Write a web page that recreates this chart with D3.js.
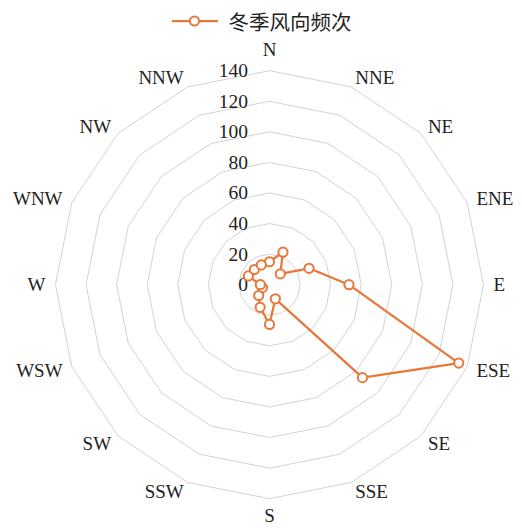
<!DOCTYPE html>
<html>
<head>
<meta charset="utf-8">
<script src="https://cdn.jsdelivr.net/npm/d3@7"></script>
<style>
  html, body { margin: 0; padding: 0; background: #fff; }
  svg { display: block; }
</style>
</head>
<body>
<svg id="chart" width="522" height="528"></svg>
<script>
// Winter wind direction frequency (16 compass points, clockwise from N)
const directions = ["N", "NNE", "NE", "ENE", "E", "ESE", "SE", "SSE",
                    "S", "SSW", "SW", "WSW", "W", "WNW", "NW", "NNW"];
const frequency = [15, 23, 10, 28, 52, 134, 86, 10,
                   26, 16, 10, 5, 6, 15, 14, 14];
const ringTicks = [0, 20, 40, 60, 80, 100, 120, 140];
const seriesName = "冬季风向频次";

const color = "#E8783A";
const gridColor = "#D3D3D3";
const latin = "'Liberation Serif', 'Times New Roman', serif";
const cjk = "'Noto Sans CJK SC', 'Noto Sans', sans-serif";

const svg = d3.select("#chart");
const cx = 269.5, cy = 284.7, R = 214;

const r = d3.scaleLinear().domain([0, 140]).range([0, R]);
const angle = d3.scalePoint()
  .domain(directions)
  .range([0, 2 * Math.PI * (directions.length - 1) / directions.length]);

const g = svg.append("g").attr("transform", `translate(${cx},${cy})`);

// Concentric polygon grid
const ring = d3.lineRadial()
  .angle(d => angle(d))
  .curve(d3.curveLinearClosed);

g.append("g").selectAll("path")
  .data(ringTicks.filter(t => t > 0))
  .join("path")
  .attr("d", t => ring.radius(() => r(t))(directions))
  .attr("fill", "none")
  .attr("stroke", gridColor)
  .attr("stroke-width", 1);

// Value labels along the north axis
g.append("g").selectAll("text")
  .data(ringTicks)
  .join("text")
  .attr("x", -21.5)
  .attr("y", t => -r(t))
  .attr("text-anchor", "end")
  .attr("dominant-baseline", "central")
  .attr("font-family", latin)
  .attr("font-size", 19.5)
  .attr("fill", "#222")
  .text(t => t);

// Compass labels around the outer ring
g.append("g").selectAll("text")
  .data(directions)
  .join("text")
  .each(function (d) {
    const a = angle(d);
    const dx = Math.sin(a), dy = -Math.cos(a);
    let x = (R + 10) * dx, y = (R + 10) * dy;
    let anchor = dx > 0.01 ? "start" : (dx < -0.01 ? "end" : "middle");
    // the north label gets a little more room than the south one,
    // which sits against the bottom edge
    if (Math.abs(dx) < 0.01) y += dy < 0 ? -11.5 : 7;
    d3.select(this)
      .attr("x", x)
      .attr("y", y)
      .attr("text-anchor", anchor)
      .attr("dominant-baseline", "central");
  })
  .attr("font-family", latin)
  .attr("font-size", 19)
  .attr("fill", "#222")
  .text(d => d);

// Data polygon
const dataLine = d3.lineRadial()
  .angle((d, i) => angle(directions[i]))
  .radius(d => r(d))
  .curve(d3.curveLinearClosed);

g.append("path")
  .datum(frequency)
  .attr("d", dataLine)
  .attr("fill", "none")
  .attr("stroke", color)
  .attr("stroke-width", 2.25)
  .attr("stroke-linejoin", "round");

g.append("g").selectAll("circle")
  .data(frequency)
  .join("circle")
  .attr("cx", (d, i) => r(d) * Math.sin(angle(directions[i])))
  .attr("cy", (d, i) => -r(d) * Math.cos(angle(directions[i])))
  .attr("r", 4.6)
  .attr("fill", "#fff")
  .attr("stroke", color)
  .attr("stroke-width", 2);

// Legend
const legend = svg.append("g").attr("transform", "translate(172,21)");
legend.append("line")
  .attr("x1", 0).attr("x2", 46)
  .attr("y1", 0).attr("y2", 0)
  .attr("stroke", color)
  .attr("stroke-width", 2.25);
legend.append("circle")
  .attr("cx", 22.5).attr("cy", 0).attr("r", 4.6)
  .attr("fill", "#fff")
  .attr("stroke", color)
  .attr("stroke-width", 2);
legend.append("text")
  .attr("x", 56.5).attr("y", 0)
  .attr("dominant-baseline", "central")
  .attr("font-family", cjk)
  .attr("font-size", 20.5)
  .attr("fill", "#222")
  .text(seriesName);
</script>
</body>
</html>
